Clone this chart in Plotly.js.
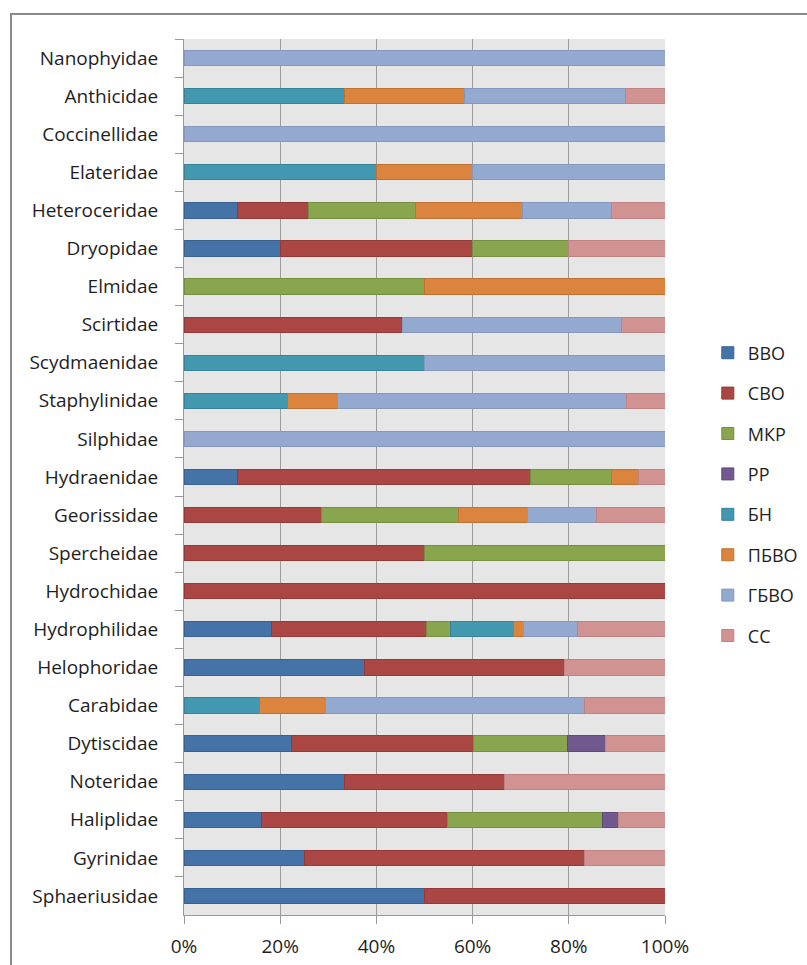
<!DOCTYPE html>
<html>
<head>
<meta charset="utf-8">
<script src="https://cdn.plot.ly/plotly-3.0.1.min.js"></script>
<style>html,body{margin:0;padding:0;background:#fff;}#chart{width:807px;height:965px;}</style>
</head>
<body>
<div id="chart"></div>
<script>
const categories = ["Nanophyidae","Anthicidae","Coccinellidae","Elateridae","Heteroceridae","Dryopidae","Elmidae","Scirtidae","Scydmaenidae","Staphylinidae","Silphidae","Hydraenidae","Georissidae","Spercheidae","Hydrochidae","Hydrophilidae","Helophoridae","Carabidae","Dytiscidae","Noteridae","Haliplidae","Gyrinidae","Sphaeriusidae"];
const seriesNames = ["ВВО","СВО","МКР","РР","БН","ПБВО","ГБВО","СС"];
const vVVO  = [0,0,0,0,11.1,20,0,0,0,0,0,11.1,0,0,0,18.1,37.5,0,22.3,33.3,16.1,25,50];
const vSVO  = [0,0,0,0,14.8,40,0,45.5,0,0,0,61.1,28.6,50,100,32.3,41.7,0,37.8,33.3,38.7,58.3,50];
const vMKR  = [0,0,0,0,22.2,20,50,0,0,0,0,16.7,28.6,50,0,5.1,0,0,19.7,0,32.3,0,0];
const vRR   = [0,0,0,0,0,0,0,0,0,0,0,0,0,0,0,0,0,0,7.8,0,3.2,0,0];
const vBN   = [0,33.3,0,40,0,0,0,0,50,21.5,0,0,0,0,0,13.1,0,15.6,0,0,0,0,0];
const vPBVO = [0,25,0,20,22.2,0,50,0,0,10.5,0,5.6,14.3,0,0,2.0,0,13.9,0,0,0,0,0];
const vGBVO = [100,33.3,100,40,18.5,0,0,45.5,50,60,100,0,14.3,0,0,11.2,0,53.7,0,0,0,0,0];
const vSS   = [0,8.3,0,0,11.1,20,0,9.1,0,8,0,5.6,14.3,0,0,18.2,20.8,16.8,12.4,33.3,9.7,16.7,0];
const xTicks = [0,20,40,60,80,100];
const xTickLabels = ["0%","20%","40%","60%","80%","100%"];

const seriesValues = [vVVO,vSVO,vMKR,vRR,vBN,vPBVO,vGBVO,vSS];
const fills = ["#4572A7","#AA4643","#89A54E","#71588F","#4198AF","#DB843D","#93A9CF","#D19392"];
const lines = ["#3a6291","#943a38","#768f42","#5f4a79","#378296","#c07233","#8598bb","#bd8382"];

const traces = seriesNames.map((name,i)=>({
  type:"bar", orientation:"h", name:name,
  y:categories, x:seriesValues[i].map(v=>v===0?null:v),
  marker:{color:fills[i], line:{color:lines[i], width:1}},
  legendgroup:"g"+i, hoverinfo:"skip"
}));

const font = "Open Sans, sans-serif";
const layout = {
  width:807, height:965,
  margin:{l:184, r:142, t:39, b:50, pad:0, autoexpand:false},
  paper_bgcolor:"#ffffff", plot_bgcolor:"#e6e6e6",
  barmode:"stack", barnorm:"percent", bargap:0.6,
  font:{family:font, size:19, color:"#1e1e1e"},
  showlegend:true,
  legend:{traceorder:"grouped", x:1.089, xanchor:"left", y:0.48, yanchor:"middle",
          font:{family:font, size:18, color:"#1e1e1e"}, tracegroupgap:14,
          bgcolor:"rgba(0,0,0,0)"},
  xaxis:{range:[0,100], tickvals:xTicks, ticktext:xTickLabels, showgrid:true, gridcolor:"#9c9c9c", gridwidth:1,
         zeroline:false, showline:true, linecolor:"#9a9a9a", linewidth:1, ticks:"outside", ticklen:8,
         tickcolor:"#9a9a9a", tickfont:{family:font, size:19, color:"#1e1e1e"}, ticklabelstandoff:6, fixedrange:true},
  yaxis:{type:"category", autorange:"reversed", showgrid:false, zeroline:false, showline:true, linecolor:"#9a9a9a",
         linewidth:1, ticks:"outside", tickson:"boundaries", ticklen:8, tickcolor:"#9a9a9a",
         tickfont:{family:font, size:19, color:"#1e1e1e"}, ticklabelstandoff:21, fixedrange:true},
  shapes:[{type:"rect", xref:"paper", yref:"paper", x0:(11-184)/481, x1:2, y0:-0.3, y1:1+(39-14)/876,
           line:{color:"#8a8a8a", width:2}, fillcolor:"rgba(0,0,0,0)", layer:"above"}]
};
Plotly.newPlot("chart", traces, layout, {staticPlot:true, displayModeBar:false});
</script>
</body>
</html>
